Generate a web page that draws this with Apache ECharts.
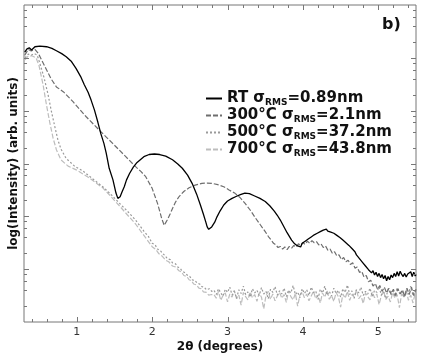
<!DOCTYPE html>
<html>
<head>
<meta charset="utf-8">
<script src="https://cdn.jsdelivr.net/npm/echarts@6/dist/echarts.min.js"></script>
<style>
  html, body { margin: 0; padding: 0; background: #fff; }
  #chart { width: 436px; height: 364px; }
</style>
</head>
<body>
<div id="chart"></div>
<script>
// legend entries
const seriesNames = ['RT', '300°C', '500°C', '700°C'];
const rmsValues = ['0.89', '2.1', '37.2', '43.8'];

// axes
const xMin = 0.3, xMax = 5.5, yMin = 0, yMax = 6;
const xTickLabels = [1, 2, 3, 4, 5];
const xMinorTicks = [0.4, 0.6, 0.8, 1.2, 1.4, 1.6, 1.8, 2.2, 2.4, 2.6, 2.8, 3.2, 3.4, 3.6, 3.8,
  4.2, 4.4, 4.6, 4.8, 5.2, 5.4];
const yDecades = [1, 2, 3, 4, 5];
const yMinorFactors = [2, 4, 6, 8];

// curves: [2theta, log10(intensity)]
const rtData = [[0.31,5.11],[0.34,5.17],[0.37,5.19],[0.40,5.15],[0.445,5.21],[0.51,5.22],[0.60,5.21],
  [0.67,5.18],[0.73,5.135],[0.80,5.08],[0.86,5.02],[0.93,4.93],[0.99,4.80],[1.05,4.65],[1.10,4.49],
  [1.15,4.35],[1.19,4.20],[1.235,4.01],[1.28,3.78],[1.32,3.56],[1.36,3.38],[1.39,3.20],[1.43,2.91],
  [1.48,2.69],[1.52,2.44],[1.545,2.34],[1.575,2.37],[1.60,2.46],[1.63,2.56],[1.66,2.69],[1.70,2.81],
  [1.75,2.93],[1.80,3.02],[1.89,3.13],[1.96,3.17],[2.03,3.18],[2.10,3.17],[2.18,3.14],[2.27,3.07],
  [2.34,2.99],[2.40,2.91],[2.47,2.78],[2.53,2.625],[2.59,2.42],[2.64,2.215],[2.68,2.04],[2.71,1.90],
  [2.73,1.80],[2.75,1.755],[2.77,1.76],[2.79,1.80],[2.83,1.89],[2.86,1.99],[2.90,2.10],[2.95,2.215],
  [3.00,2.29],[3.06,2.34],[3.12,2.38],[3.17,2.41],[3.23,2.44],[3.29,2.43],[3.36,2.385],[3.43,2.34],
  [3.50,2.28],[3.56,2.20],[3.62,2.10],[3.66,2.02],[3.70,1.93],[3.73,1.85],[3.76,1.77],[3.79,1.69],
  [3.82,1.62],[3.85,1.55],[3.87,1.52],[3.89,1.48],[3.91,1.50],[3.93,1.44],[3.95,1.47],[3.97,1.42],
  [3.99,1.49],[4.01,1.46],[4.03,1.53],[4.05,1.51],[4.07,1.57],[4.09,1.55],[4.11,1.61],[4.13,1.60],
  [4.15,1.65],[4.17,1.63],[4.19,1.68],[4.21,1.66],[4.23,1.71],[4.25,1.69],[4.27,1.74],[4.29,1.71],
  [4.31,1.76],[4.33,1.72],[4.35,1.74],[4.37,1.70],[4.39,1.73],[4.41,1.68],[4.43,1.70],[4.45,1.64],
  [4.47,1.66],[4.49,1.60],[4.51,1.62],[4.53,1.55],[4.55,1.57],[4.57,1.50],[4.59,1.53],[4.61,1.45],
  [4.63,1.43],[4.65,1.39],[4.67,1.36],[4.69,1.33],[4.71,1.27],[4.73,1.26],[4.75,1.20],[4.77,1.22],
  [4.79,1.13],[4.81,1.12],[4.83,1.06],[4.85,1.08],[4.87,0.99],[4.89,1.02],[4.91,0.93],[4.93,0.97],
  [4.95,0.89],[4.97,0.94],[4.99,0.86],[5.01,0.92],[5.03,0.84],[5.05,0.90],[5.07,0.82],[5.09,0.88],
  [5.11,0.78],[5.13,0.86],[5.15,0.80],[5.17,0.89],[5.19,0.84],[5.21,0.92],[5.23,0.86],[5.25,0.95],
  [5.27,0.87],[5.29,0.96],[5.31,0.90],[5.33,0.86],[5.35,0.92],[5.37,0.85],[5.39,0.91],[5.41,0.88],
  [5.43,0.95],[5.45,0.86],[5.47,0.94],[5.49,0.87],[5.50,0.90]];

const t300Data = [[0.31,5.05],[0.357,5.16],[0.396,5.13],[0.445,5.16],[0.49,5.085],[0.54,4.94],
  [0.60,4.77],[0.66,4.60],[0.73,4.45],[0.82,4.36],[0.95,4.17],[1.125,3.885],[1.30,3.63],[1.476,3.38],
  [1.65,3.13],[1.78,2.94],[1.85,2.85],[1.915,2.75],[2.00,2.53],[2.07,2.25],[2.10,2.10],[2.126,1.96],
  [2.16,1.83],[2.20,1.93],[2.24,2.05],[2.27,2.15],[2.31,2.27],[2.355,2.37],[2.42,2.47],[2.49,2.54],
  [2.57,2.59],[2.66,2.625],[2.73,2.63],[2.79,2.625],[2.87,2.60],[2.95,2.56],[3.02,2.50],[3.10,2.435],
  [3.17,2.35],[3.23,2.25],[3.30,2.12],[3.36,1.99],[3.43,1.85],[3.50,1.71],[3.55,1.60],[3.58,1.55],
  [3.61,1.49],[3.64,1.46],[3.67,1.41],[3.70,1.43],[3.73,1.38],[3.76,1.42],[3.79,1.37],[3.82,1.43],
  [3.85,1.40],[3.88,1.45],[3.91,1.42],[3.94,1.48],[3.97,1.45],[4.00,1.50],[4.03,1.47],[4.06,1.53],
  [4.09,1.49],[4.12,1.54],[4.15,1.50],[4.18,1.52],[4.21,1.46],[4.24,1.48],[4.27,1.41],[4.30,1.44],
  [4.33,1.36],[4.36,1.38],[4.39,1.30],[4.42,1.33],[4.45,1.25],[4.48,1.27],[4.51,1.18],[4.54,1.22],
  [4.57,1.14],[4.60,1.17],[4.63,1.09],[4.66,1.12],[4.69,1.02],[4.72,1.04],[4.75,0.94],[4.78,0.96],
  [4.81,0.85],[4.84,0.88],[4.87,0.76],[4.90,0.79],[4.93,0.68],[4.96,0.73],[4.99,0.62],[5.02,0.69],
  [5.05,0.58],[5.08,0.66],[5.11,0.55],[5.14,0.64],[5.17,0.52],[5.20,0.62],[5.23,0.50],[5.26,0.63],
  [5.29,0.53],[5.32,0.61],[5.35,0.48],[5.38,0.64],[5.41,0.52],[5.44,0.66],[5.47,0.50],[5.50,0.62]];

const t500Head = [[0.313,5.00],[0.357,5.07],[0.396,5.05],[0.436,5.08],[0.475,5.05],[0.51,4.90],
  [0.567,4.62],[0.62,4.30],[0.66,4.01],[0.71,3.69],[0.75,3.445],[0.79,3.275],[0.857,3.10],[0.97,2.95],
  [1.08,2.86],[1.21,2.71],[1.345,2.56],[1.45,2.42],[1.565,2.25],[1.67,2.10],[1.78,1.93],[1.89,1.72],
  [1.95,1.62],[2.00,1.49],[2.04,1.46],[2.07,1.38],[2.11,1.35],[2.135,1.30],[2.17,1.26],[2.20,1.20],
  [2.24,1.18],[2.27,1.12],[2.31,1.10],[2.34,1.04],[2.37,1.02],[2.40,0.96],[2.44,0.93],[2.47,0.88],
  [2.50,0.86],[2.53,0.80],[2.57,0.78],[2.60,0.73],[2.63,0.72],[2.66,0.67],[2.69,0.66],[2.72,0.61],
  [2.76,0.63],[2.79,0.58]];

const t700Head = [[0.313,4.96],[0.357,5.035],[0.41,5.035],[0.46,5.00],[0.50,4.85],[0.553,4.49],
  [0.598,4.11],[0.64,3.79],[0.686,3.48],[0.73,3.26],[0.79,3.07],[0.885,2.95],[0.993,2.88],[1.147,2.745],
  [1.345,2.54],[1.45,2.38],[1.565,2.20],[1.67,2.03],[1.78,1.855],[1.89,1.64],[2.00,1.425],[2.05,1.37],
  [2.09,1.29],[2.13,1.25],[2.18,1.17],[2.22,1.14],[2.27,1.06],[2.31,1.04],[2.355,0.97],[2.39,0.95],
  [2.42,0.88],[2.46,0.86],[2.49,0.80],[2.52,0.78],[2.55,0.72],[2.59,0.70],[2.62,0.64],[2.65,0.63],
  [2.68,0.57],[2.72,0.56],[2.75,0.51],[2.79,0.52]];

// noisy background tails of the two annealed samples
const tailX = [2.82,2.85,2.88,2.91,2.94,2.97,3.00,3.03,3.06,3.09,3.12,3.15,3.18,3.21,3.24,3.27,3.30,
  3.33,3.36,3.39,3.42,3.45,3.48,3.51,3.54,3.57,3.60,3.63,3.66,3.69,3.72,3.75,3.78,3.81,3.84,3.87,
  3.90,3.93,3.96,3.99,4.02,4.05,4.08,4.11,4.14,4.17,4.20,4.23,4.26,4.29,4.32,4.35,4.38,4.41,4.44,
  4.47,4.50,4.53,4.56,4.59,4.62,4.65,4.68,4.71,4.74,4.77,4.80,4.83,4.86,4.89,4.92,4.95,4.98,5.01,
  5.04,5.07,5.10,5.13,5.16,5.19,5.22,5.25,5.28,5.31,5.34,5.37,5.40,5.43,5.46,5.49];
const t500Tail = [0.60,0.52,0.63,0.55,0.49,0.62,0.56,0.66,0.51,0.58,
  0.45,0.61,0.54,0.68,0.52,0.57,0.47,0.63,0.55,0.60,
  0.50,0.65,0.53,0.58,0.44,0.62,0.56,0.67,0.51,0.59,
  0.53,0.64,0.48,0.60,0.55,0.69,0.52,0.57,0.46,0.63,
  0.54,0.61,0.50,0.66,0.56,0.59,0.43,0.62,0.55,0.68,
  0.51,0.58,0.49,0.64,0.54,0.60,0.47,0.63,0.56,0.70,
  0.52,0.59,0.45,0.61,0.55,0.66,0.50,0.58,0.53,0.64,
  0.48,0.60,0.56,0.67,0.51,0.57,0.44,0.63,0.54,0.61,
  0.49,0.65,0.55,0.59,0.46,0.62,0.53,0.68,0.50,0.58];
const t700Tail = [0.52,0.45,0.58,0.41,0.50,0.55,0.38,0.53,0.47,0.60,
  0.44,0.51,0.32,0.56,0.48,0.42,0.57,0.46,0.52,0.39,
  0.55,0.47,0.25,0.50,0.58,0.43,0.53,0.40,0.49,0.56,
  0.45,0.52,0.37,0.59,0.48,0.42,0.54,0.30,0.51,0.57,
  0.46,0.53,0.40,0.49,0.58,0.44,0.51,0.36,0.55,0.47,
  0.60,0.43,0.50,0.39,0.56,0.48,0.28,0.53,0.45,0.58,
  0.41,0.52,0.47,0.61,0.44,0.50,0.35,0.55,0.48,0.42,
  0.57,0.46,0.53,0.33,0.50,0.59,0.43,0.49,0.38,0.56,
  0.45,0.52,0.27,0.54,0.47,0.60,0.41,0.51,0.36,0.55];

const t500Data = t500Head.concat(tailX.map((x, i) => [x, t500Tail[i]]));
const t700Data = t700Head.concat(tailX.map((x, i) => [x, t700Tail[i]]));

const FONT = 'DejaVu Sans';
const AXIS_COLOR = '#777';

const yMajorTicks = yDecades;
const yMinorTicks = [];
[0, 1, 2, 3, 4, 5].forEach(k => yMinorFactors.forEach(m => yMinorTicks.push(k + Math.log10(m))));

// ticks drawn inward on all four sides
function xTicks(len, withLabel) {
  return (params, api) => {
    const v = api.value(0);
    const b = api.coord([v, yMin]);
    const t = api.coord([v, yMax]);
    const x = Math.round(b[0]) + 0.5;
    const children = [
      { type: 'line', shape: { x1: x, y1: b[1], x2: x, y2: b[1] - len }, style: { stroke: AXIS_COLOR, lineWidth: 1 } },
      { type: 'line', shape: { x1: x, y1: t[1], x2: x, y2: t[1] + len }, style: { stroke: AXIS_COLOR, lineWidth: 1 } }
    ];
    if (withLabel) {
      children.push({
        type: 'text',
        style: { text: String(v), x: b[0], y: b[1] + 5, align: 'center', verticalAlign: 'top',
          fontSize: 11, fontFamily: FONT, fill: '#333' }
      });
    }
    return { type: 'group', children };
  };
}
function yTicks(len) {
  return (params, api) => {
    const v = api.value(1);
    const l = api.coord([xMin, v]);
    const r = api.coord([xMax, v]);
    const y = Math.round(l[1]) + 0.5;
    return {
      type: 'group',
      children: [
        { type: 'line', shape: { x1: l[0], y1: y, x2: l[0] + len, y2: y }, style: { stroke: AXIS_COLOR, lineWidth: 1 } },
        { type: 'line', shape: { x1: r[0], y1: y, x2: r[0] - len, y2: y }, style: { stroke: AXIS_COLOR, lineWidth: 1 } }
      ]
    };
  };
}
function tickSeries(data, renderItem) {
  return { type: 'custom', coordinateSystem: 'cartesian2d', data, renderItem, clip: false, silent: true, z: 5 };
}

function lineSeries(name, data, color, width, type) {
  return {
    name, type: 'line', data, showSymbol: false, symbol: 'none', clip: true,
    lineStyle: { color, width, type }, itemStyle: { color }
  };
}

const chart = echarts.init(document.getElementById('chart'));
chart.setOption({
  animation: false,
  backgroundColor: '#fff',
  title: {
    text: 'b)', left: 382, top: 17, padding: 0,
    textStyle: { fontFamily: FONT, fontSize: 16, fontWeight: 'bold', color: '#111' }
  },
  grid: { left: 21, right: 20, top: 5, bottom: 42, show: true, borderColor: AXIS_COLOR, borderWidth: 1 },
  legend: {
    data: seriesNames,
    orient: 'vertical', left: 205, top: 90, padding: 0,
    itemWidth: 16, itemHeight: 10, itemGap: 0,
    itemStyle: { opacity: 0 },
    formatter: name => {
      const i = seriesNames.indexOf(name);
      return name + ' σ{s|RMS}=' + rmsValues[i] + 'nm';
    },
    textStyle: {
      fontFamily: FONT, fontSize: 15, fontWeight: 'bold', color: '#111', lineHeight: 17,
      rich: { s: { fontFamily: FONT, fontSize: 9, fontWeight: 'bold', color: '#111', verticalAlign: 'bottom' } }
    }
  },
  xAxis: {
    type: 'value', min: xMin, max: xMax,
    name: '2θ (degrees)', nameLocation: 'middle', nameGap: 19,
    nameTextStyle: { fontFamily: FONT, fontSize: 12, fontWeight: 'bold', color: '#111' },
    axisLine: { show: false }, axisTick: { show: false }, axisLabel: { show: false }, splitLine: { show: false }
  },
  yAxis: {
    type: 'value', min: yMin, max: yMax,
    name: 'log(Intensity) (arb. units)', nameLocation: 'middle', nameGap: 4,
    nameTextStyle: { fontFamily: FONT, fontSize: 12, fontWeight: 'bold', color: '#111' },
    axisLine: { show: false }, axisTick: { show: false }, axisLabel: { show: false }, splitLine: { show: false }
  },
  series: [
    lineSeries('700°C', t700Data, '#bdbdbd', 1.2, [5, 2]),
    lineSeries('500°C', t500Data, '#9a9a9a', 1.2, [2, 2]),
    lineSeries('300°C', t300Data, '#6e6e6e', 1.2, [5, 2]),
    lineSeries('RT', rtData, '#000', 1.3, 'solid'),
    tickSeries(xTickLabels.map(v => [v, yMin]), xTicks(5, true)),
    tickSeries(xMinorTicks.map(v => [v, yMin]), xTicks(3, false)),
    tickSeries(yMajorTicks.map(v => [xMin, v]), yTicks(5)),
    tickSeries(yMinorTicks.map(v => [xMin, v]), yTicks(3))
  ]
});
</script>
</body>
</html>
